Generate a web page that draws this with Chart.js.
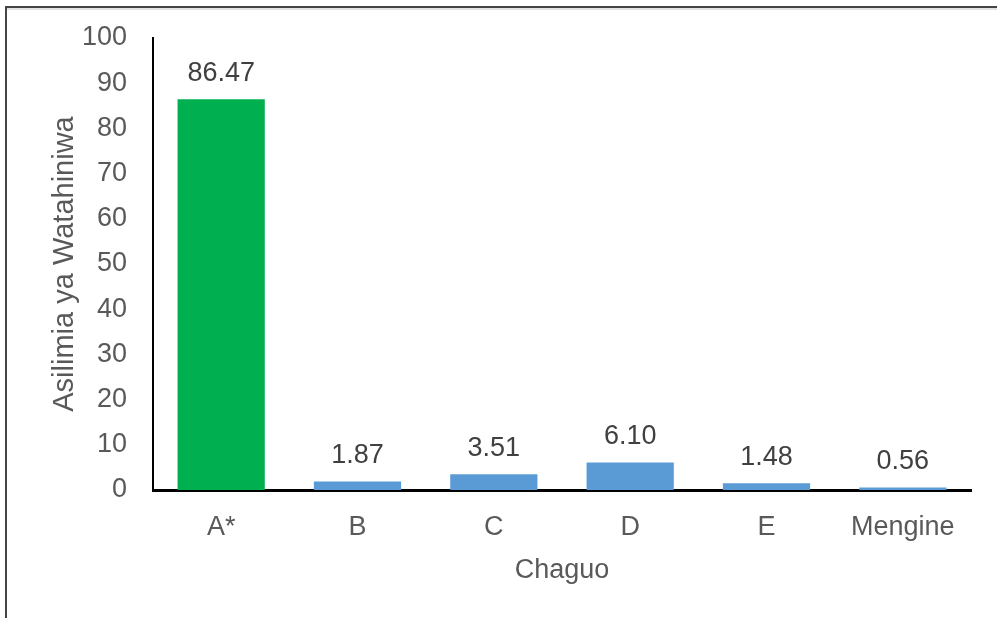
<!DOCTYPE html>
<html>
<head>
<meta charset="utf-8">
<script src="https://cdn.jsdelivr.net/npm/chart.js@4/dist/chart.umd.min.js"></script>
<style>
  html, body { margin: 0; padding: 0; background: #ffffff; }
  #wrap { position: relative; width: 997px; height: 618px; }
</style>
</head>
<body>
<div id="wrap"><canvas id="c" width="997" height="618"></canvas></div>
<script>
const categories = ["A*", "B", "C", "D", "E", "Mengine"];
const percentages = [86.47, 1.87, 3.51, 6.10, 1.48, 0.56];
const barColors = ["#00B050", "#5B9BD5", "#5B9BD5", "#5B9BD5", "#5B9BD5", "#5B9BD5"];
const yTitle = "Asilimia ya Watahiniwa";
const xTitle = "Chaguo";

const FONT = "'Liberation Sans', Arial, sans-serif";

const framePlugin = {
  id: 'frame',
  beforeDraw(chart) {
    const ctx = chart.ctx;
    ctx.save();
    ctx.fillStyle = '#ffffff';
    ctx.fillRect(0, 0, chart.width, chart.height);
    ctx.fillStyle = '#e2e2e2';
    ctx.fillRect(7, 8, chart.width - 7, 2);
    ctx.fillStyle = '#444444';
    ctx.fillRect(5, 6, chart.width - 5, 2);
    ctx.fillRect(5, 6, 2, chart.height - 6);
    ctx.restore();
  }
};

const labelPlugin = {
  id: 'valueLabels',
  afterDatasetsDraw(chart) {
    const ctx = chart.ctx;
    const meta = chart.getDatasetMeta(0);
    ctx.save();
    ctx.font = "27px " + FONT;
    ctx.fillStyle = '#404040';
    ctx.textAlign = 'center';
    ctx.textBaseline = 'alphabetic';
    meta.data.forEach((bar, i) => {
      ctx.fillText(percentages[i].toFixed(2), bar.x, bar.y - 18.5);
    });
    ctx.restore();
  }
};

new Chart(document.getElementById('c'), {
  type: 'bar',
  data: {
    labels: categories,
    datasets: [{
      data: percentages,
      backgroundColor: barColors,
      borderWidth: 0,
      barPercentage: 0.64,
      categoryPercentage: 1.0
    }]
  },
  options: {
    responsive: false,
    animation: false,
    layout: { padding: { left: 0, right: 26, top: 38, bottom: 0 } },
    plugins: {
      legend: { display: false },
      tooltip: { enabled: false }
    },
    scales: {
      x: {
        grid: { display: false, drawTicks: false },
        border: { display: true, color: '#000000', width: 3 },
        ticks: { color: '#595959', font: { family: FONT, size: 27 }, padding: 21 },
        title: { display: true, text: xTitle, color: '#595959', font: { family: FONT, size: 27 }, padding: { top: 0, bottom: 31 } },
        afterFit(scale) { scale.height = 128; scale.paddingLeft = 0; scale.paddingRight = 0; }
      },
      y: {
        min: 0,
        max: 100,
        grid: { display: false, drawTicks: false },
        border: { display: true, color: '#000000', width: 2 },
        ticks: { stepSize: 10, color: '#595959', font: { family: FONT, size: 27 }, padding: 26 },
        title: { display: true, text: yTitle, color: '#595959', font: { family: FONT, size: 29 }, padding: { top: 48, bottom: 0 } },
        afterFit(scale) { scale.width = 153; scale.paddingTop = 0; scale.paddingBottom = 0; }
      }
    }
  },
  plugins: [framePlugin, labelPlugin]
});
</script>
</body>
</html>
